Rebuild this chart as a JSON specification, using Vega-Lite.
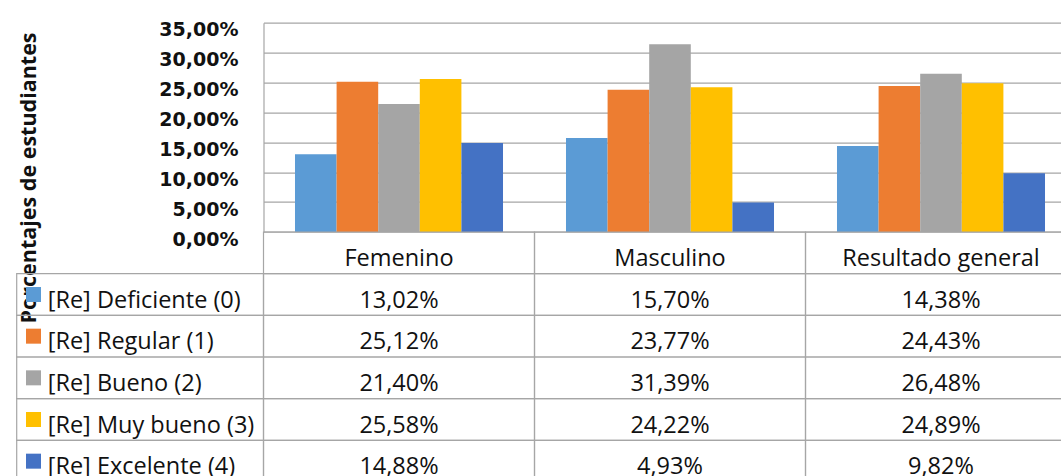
{
  "$schema": "https://vega.github.io/schema/vega-lite/v6.json",
  "width": 797.5,
  "height": 453.3,
  "autosize": {"type": "none"},
  "padding": {"left": 263.5, "top": 22.7, "right": 0, "bottom": 0},
  "background": "white",
  "config": {
    "view": {"stroke": null},
    "locale": {"number": {"decimal": ",", "thousands": ".", "grouping": [3], "currency": ["", " €"]}}
  },
  "datasets": {
    "cells": [
      {"category": "Femenino", "series": "[Re] Deficiente (0)", "value": 0.1302},
      {"category": "Femenino", "series": "[Re] Regular (1)", "value": 0.2512},
      {"category": "Femenino", "series": "[Re] Bueno (2)", "value": 0.2140},
      {"category": "Femenino", "series": "[Re] Muy bueno (3)", "value": 0.2558},
      {"category": "Femenino", "series": "[Re] Excelente (4)", "value": 0.1488},
      {"category": "Masculino", "series": "[Re] Deficiente (0)", "value": 0.1570},
      {"category": "Masculino", "series": "[Re] Regular (1)", "value": 0.2377},
      {"category": "Masculino", "series": "[Re] Bueno (2)", "value": 0.3139},
      {"category": "Masculino", "series": "[Re] Muy bueno (3)", "value": 0.2422},
      {"category": "Masculino", "series": "[Re] Excelente (4)", "value": 0.0493},
      {"category": "Resultado general", "series": "[Re] Deficiente (0)", "value": 0.1438},
      {"category": "Resultado general", "series": "[Re] Regular (1)", "value": 0.2443},
      {"category": "Resultado general", "series": "[Re] Bueno (2)", "value": 0.2648},
      {"category": "Resultado general", "series": "[Re] Muy bueno (3)", "value": 0.2489},
      {"category": "Resultado general", "series": "[Re] Excelente (4)", "value": 0.0982}
    ],
    "cats": [
      {"category": "Femenino", "row": "header"},
      {"category": "Masculino", "row": "header"},
      {"category": "Resultado general", "row": "header"}
    ],
    "series": [
      {"series": "[Re] Deficiente (0)", "col": "leyenda"},
      {"series": "[Re] Regular (1)", "col": "leyenda"},
      {"series": "[Re] Bueno (2)", "col": "leyenda"},
      {"series": "[Re] Muy bueno (3)", "col": "leyenda"},
      {"series": "[Re] Excelente (4)", "col": "leyenda"}
    ]
  },
  "layer": [
    {
      "data": {"name": "cells"},
      "mark": {"type": "bar"},
      "encoding": {
        "x": {"field": "category", "type": "nominal", "axis": null,
              "scale": {"type": "band", "domain": ["Femenino", "Masculino", "Resultado general"], "range": [0, 813], "paddingInner": 0, "paddingOuter": 0}},
        "xOffset": {"field": "series", "type": "nominal",
              "scale": {"domain": ["[Re] Deficiente (0)", "[Re] Regular (1)", "[Re] Bueno (2)", "[Re] Muy bueno (3)", "[Re] Excelente (4)"], "paddingInner": 0, "paddingOuter": 0.757}},
        "y": {"field": "value", "type": "quantitative",
              "scale": {"domain": [0, 0.35], "range": [209.3, 0], "nice": false, "zero": true},
              "axis": {
                "values": [0, 0.05, 0.1, 0.15, 0.2, 0.25, 0.3, 0.35],
                "format": ".2%",
                "ticks": false,
                "grid": true,
                "gridColor": "#a6a6a6",
                "gridWidth": 1.2,
                "domainColor": "#a6a6a6",
                "domainWidth": 1.2,
                "labelFont": "DejaVu Sans",
                "labelFontWeight": "bold",
                "labelFontSize": 19,
                "labelColor": "#111111",
                "labelPadding": 25.5,
                "labelOffset": 7,
                "labelBaseline": "middle",
                "labelOverlap": false,
                "title": "Porcentajes de estudiantes",
                "titleFont": "Open Sans",
                "titleFontWeight": "bold",
                "titleFontSize": 21.5,
                "titleColor": "#111111",
                "titleAngle": 270,
                "titleAlign": "center",
                "titleBaseline": "alphabetic",
                "titleX": -228.5,
                "titleY": 154.8
              }},
        "color": {"field": "series", "type": "nominal", "legend": null,
              "scale": {"domain": ["[Re] Deficiente (0)", "[Re] Regular (1)", "[Re] Bueno (2)", "[Re] Muy bueno (3)", "[Re] Excelente (4)"],
                        "range": ["#5B9BD5", "#ED7D31", "#A5A5A5", "#FFC000", "#4472C4"]}}
      }
    },
    {
      "data": {"name": "cells"},
      "mark": {"type": "rect", "fillOpacity": 0, "stroke": "#a6a6a6", "strokeWidth": 1.2},
      "encoding": {
        "x": {"field": "category", "type": "nominal", "axis": null,
              "scale": {"type": "band", "domain": ["Femenino", "Masculino", "Resultado general"], "range": [0, 813], "paddingInner": 0, "paddingOuter": 0}},
        "y": {"field": "series", "type": "nominal", "axis": null,
              "scale": {"type": "band", "domain": ["header", "[Re] Deficiente (0)", "[Re] Regular (1)", "[Re] Bueno (2)", "[Re] Muy bueno (3)", "[Re] Excelente (4)"], "range": [209.3, 459.3], "paddingInner": 0, "paddingOuter": 0}}
      }
    },
    {
      "data": {"name": "cats"},
      "mark": {"type": "rect", "fillOpacity": 0, "stroke": "#a6a6a6", "strokeWidth": 1.2},
      "encoding": {
        "x": {"field": "category", "type": "nominal", "axis": null,
              "scale": {"type": "band", "domain": ["Femenino", "Masculino", "Resultado general"], "range": [0, 813], "paddingInner": 0, "paddingOuter": 0}},
        "y": {"field": "row", "type": "nominal", "axis": null,
              "scale": {"type": "band", "domain": ["header", "[Re] Deficiente (0)", "[Re] Regular (1)", "[Re] Bueno (2)", "[Re] Muy bueno (3)", "[Re] Excelente (4)"], "range": [209.3, 459.3], "paddingInner": 0, "paddingOuter": 0}}
      }
    },
    {
      "data": {"name": "cats"},
      "mark": {"type": "text", "font": "Open Sans", "fontSize": 23.5, "color": "#111111", "baseline": "middle", "align": "center", "dy": 6},
      "encoding": {
        "x": {"field": "category", "type": "nominal", "axis": null,
              "scale": {"type": "band", "domain": ["Femenino", "Masculino", "Resultado general"], "range": [0, 813], "paddingInner": 0, "paddingOuter": 0}},
        "y": {"field": "row", "type": "nominal", "axis": null,
              "scale": {"type": "band", "domain": ["header", "[Re] Deficiente (0)", "[Re] Regular (1)", "[Re] Bueno (2)", "[Re] Muy bueno (3)", "[Re] Excelente (4)"], "range": [209.3, 459.3], "paddingInner": 0, "paddingOuter": 0}},
        "text": {"field": "category", "type": "nominal"}
      }
    },
    {
      "data": {"name": "cells"},
      "mark": {"type": "text", "font": "Open Sans", "fontSize": 23.5, "color": "#111111", "baseline": "middle", "align": "center", "dy": 6},
      "encoding": {
        "x": {"field": "category", "type": "nominal", "axis": null,
              "scale": {"type": "band", "domain": ["Femenino", "Masculino", "Resultado general"], "range": [0, 813], "paddingInner": 0, "paddingOuter": 0}},
        "y": {"field": "series", "type": "nominal", "axis": null,
              "scale": {"type": "band", "domain": ["header", "[Re] Deficiente (0)", "[Re] Regular (1)", "[Re] Bueno (2)", "[Re] Muy bueno (3)", "[Re] Excelente (4)"], "range": [209.3, 459.3], "paddingInner": 0, "paddingOuter": 0}},
        "text": {"field": "value", "type": "quantitative", "format": ".2%"}
      }
    },
    {
      "data": {"name": "series"},
      "mark": {"type": "rect", "fillOpacity": 0, "stroke": "#a6a6a6", "strokeWidth": 1.2},
      "encoding": {
        "x": {"field": "col", "type": "nominal", "axis": null,
              "scale": {"type": "band", "domain": ["leyenda"], "range": [-246.8, 0], "paddingInner": 0, "paddingOuter": 0}},
        "y": {"field": "series", "type": "nominal", "axis": null,
              "scale": {"type": "band", "domain": ["header", "[Re] Deficiente (0)", "[Re] Regular (1)", "[Re] Bueno (2)", "[Re] Muy bueno (3)", "[Re] Excelente (4)"], "range": [209.3, 459.3], "paddingInner": 0, "paddingOuter": 0}}
      }
    },
    {
      "data": {"name": "series"},
      "mark": {"type": "square", "size": 225, "opacity": 1, "xOffset": 16.8},
      "encoding": {
        "x": {"field": "col", "type": "nominal", "axis": null, "bandPosition": 0,
              "scale": {"type": "band", "domain": ["leyenda"], "range": [-246.8, 0], "paddingInner": 0, "paddingOuter": 0}},
        "y": {"field": "series", "type": "nominal", "axis": null,
              "scale": {"type": "band", "domain": ["header", "[Re] Deficiente (0)", "[Re] Regular (1)", "[Re] Bueno (2)", "[Re] Muy bueno (3)", "[Re] Excelente (4)"], "range": [209.3, 459.3], "paddingInner": 0, "paddingOuter": 0}},
        "color": {"field": "series", "type": "nominal", "legend": null,
              "scale": {"domain": ["[Re] Deficiente (0)", "[Re] Regular (1)", "[Re] Bueno (2)", "[Re] Muy bueno (3)", "[Re] Excelente (4)"],
                        "range": ["#5B9BD5", "#ED7D31", "#A5A5A5", "#FFC000", "#4472C4"]}}
      }
    },
    {
      "data": {"name": "series"},
      "mark": {"type": "text", "font": "Open Sans", "fontSize": 23.5, "color": "#111111", "baseline": "middle", "align": "left", "dx": 31, "dy": 6},
      "encoding": {
        "x": {"field": "col", "type": "nominal", "axis": null, "bandPosition": 0,
              "scale": {"type": "band", "domain": ["leyenda"], "range": [-246.8, 0], "paddingInner": 0, "paddingOuter": 0}},
        "y": {"field": "series", "type": "nominal", "axis": null,
              "scale": {"type": "band", "domain": ["header", "[Re] Deficiente (0)", "[Re] Regular (1)", "[Re] Bueno (2)", "[Re] Muy bueno (3)", "[Re] Excelente (4)"], "range": [209.3, 459.3], "paddingInner": 0, "paddingOuter": 0}},
        "text": {"field": "series", "type": "nominal"}
      }
    }
  ],
  "resolve": {"scale": {"x": "independent", "y": "independent", "color": "shared"}}
}
